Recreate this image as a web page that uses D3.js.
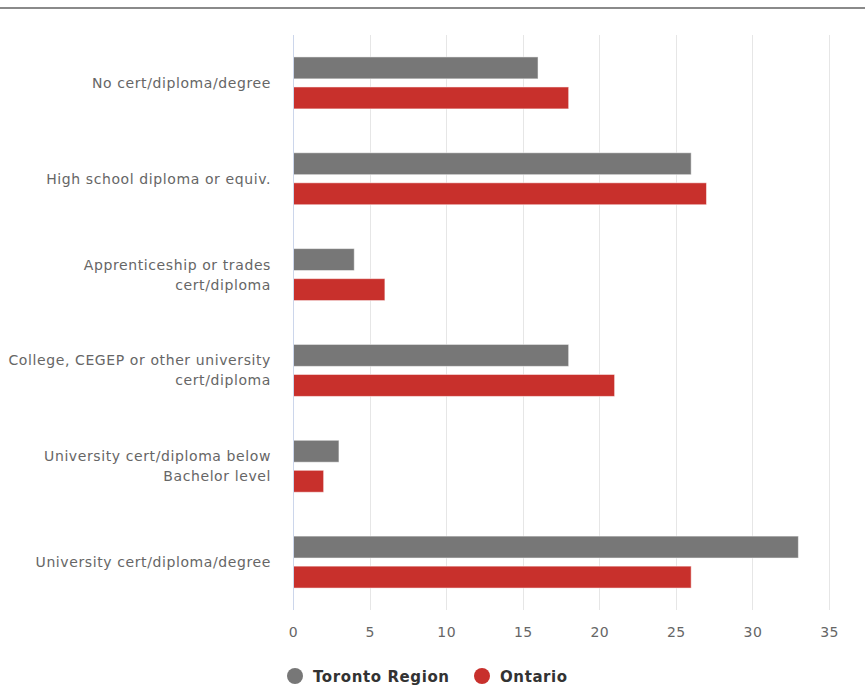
<!DOCTYPE html>
<html>
<head>
<meta charset="utf-8">
<script src="https://cdn.jsdelivr.net/npm/d3@7"></script>
<style>
  body { margin: 0; background: #fff; }
  svg { display: block; font-family: "DejaVu Sans", sans-serif; }
</style>
</head>
<body>
<svg id="chart"></svg>
<script>
// education levels, % of population
const categories = [
  ['No cert/diploma/degree'],
  ['High school diploma or equiv.'],
  ['Apprenticeship or trades', 'cert/diploma'],
  ['College, CEGEP or other university', 'cert/diploma'],
  ['University cert/diploma below', 'Bachelor level'],
  ['University cert/diploma/degree']
];
const seriesNames = ['Toronto Region', 'Ontario'];
const torontoValues = [16, 26, 4, 18, 3, 33];
const ontarioValues = [18, 27, 6, 21, 2, 26];
const xTicks = [0, 5, 10, 15, 20, 25, 30, 35];
const colors = ['#777777', '#c8302c'];

const width = 865, height = 685;
const margin = { top: 35, left: 293, right: 36, bottom: 75 };

const svg = d3.select('#chart')
  .attr('width', width)
  .attr('height', height);

// thin rule across the top
svg.append('rect')
  .attr('x', 0).attr('y', 7)
  .attr('width', width).attr('height', 2)
  .attr('fill', '#8a8a8a');

const x = d3.scaleLinear()
  .domain([0, 35])
  .range([margin.left, width - margin.right]);

const y = d3.scaleBand()
  .domain(d3.range(categories.length))
  .range([margin.top, height - margin.bottom]);

const inner = d3.scaleBand()
  .domain([0, 1])
  .range([0, y.bandwidth()])
  .paddingInner(0.27)
  .paddingOuter(0.73);

// grid lines
svg.append('g')
  .selectAll('line')
  .data(xTicks.slice(1))
  .join('line')
  .attr('x1', d => Math.round(x(d)) + 0.5)
  .attr('x2', d => Math.round(x(d)) + 0.5)
  .attr('y1', margin.top)
  .attr('y2', height - margin.bottom)
  .attr('stroke', '#e6e6e6')
  .attr('stroke-width', 1);

// bars
const rows = categories.map((c, i) => [torontoValues[i], ontarioValues[i]]);
const groups = svg.append('g')
  .selectAll('g')
  .data(rows)
  .join('g')
  .attr('transform', (d, i) => `translate(0,${y(i)})`);

groups.selectAll('rect')
  .data(d => d)
  .join('rect')
  .attr('x', x(0))
  .attr('y', (d, j) => inner(j))
  .attr('width', d => x(d) - x(0))
  .attr('height', inner.bandwidth())
  .attr('fill', (d, j) => colors[j])
  .attr('stroke', '#fff')
  .attr('stroke-opacity', 0.5)
  .attr('stroke-width', 1);

// y axis line
svg.append('line')
  .attr('x1', Math.round(x(0)) + 0.5)
  .attr('x2', Math.round(x(0)) + 0.5)
  .attr('y1', margin.top)
  .attr('y2', height - margin.bottom)
  .attr('stroke', '#ccd6eb');

// category labels
const labels = svg.append('g')
  .selectAll('text')
  .data(categories)
  .join('text')
  .attr('x', margin.left - 22)
  .attr('y', (d, i) => y(i) + y.bandwidth() / 2)
  .attr('text-anchor', 'end')
  .attr('fill', '#666')
  .style('font-size', '14px')
  .style('letter-spacing', '0.6px');

labels.each(function (d) {
  const t = d3.select(this);
  const lh = 20;
  d.forEach((line, k) => {
    t.append('tspan')
      .attr('x', margin.left - 22)
      .attr('y', +t.attr('y') + (k - (d.length - 1) / 2) * lh + 5)
      .text(line);
  });
});

// x axis tick labels
const xAxis = d3.axisBottom(x)
  .tickValues(xTicks)
  .tickSize(0)
  .tickPadding(0);

const ax = svg.append('g')
  .attr('transform', `translate(0,${height - margin.bottom + 17})`)
  .call(xAxis);
ax.select('.domain').remove();
ax.selectAll('text')
  .attr('fill', '#666')
  .style('font-family', '"DejaVu Sans", sans-serif')
  .style('font-size', '14px')
  .style('letter-spacing', '0.4px');

// legend
const legend = svg.append('g').attr('transform', 'translate(0,676)');
const legendX = [295, 482];
seriesNames.forEach((name, i) => {
  legend.append('circle')
    .attr('cx', legendX[i])
    .attr('cy', 0)
    .attr('r', 8)
    .attr('fill', colors[i]);
  legend.append('text')
    .attr('x', legendX[i] + 18)
    .attr('y', 6)
    .attr('fill', '#333')
    .style('font-size', '15px')
    .style('font-weight', 'bold')
    .style('letter-spacing', '0.6px')
    .text(name);
});
</script>
</body>
</html>
